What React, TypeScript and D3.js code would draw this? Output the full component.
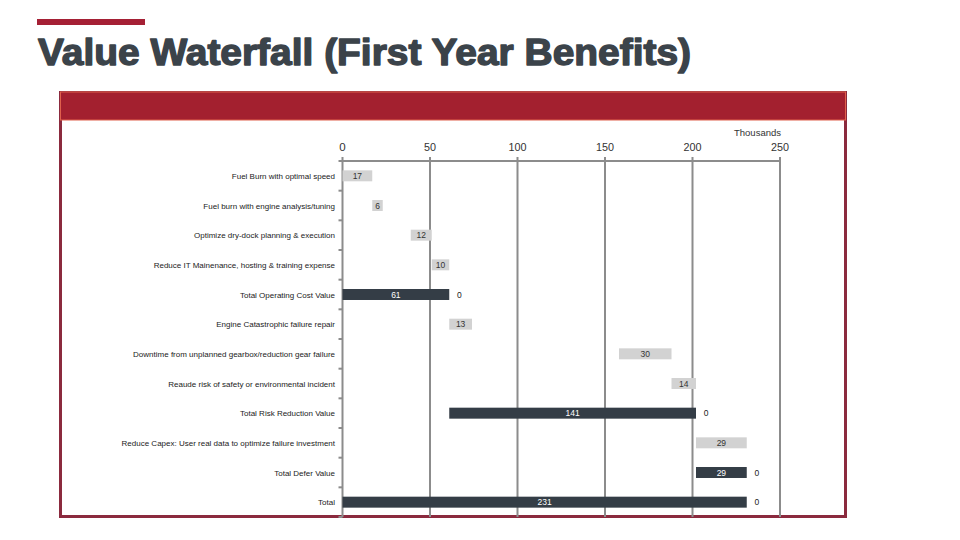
import React from "react";
import * as d3 from "d3";

const categories = [
  "Fuel Burn with optimal speed",
  "Fuel burn with engine analysis/tuning",
  "Optimize dry-dock planning & execution",
  "Reduce IT Mainenance, hosting & training expense",
  "Total Operating Cost Value",
  "Engine Catastrophic failure repair",
  "Downtime from unplanned gearbox/reduction gear failure",
  "Reaude risk of safety or environmental incident",
  "Total Risk Reduction Value",
  "Reduce Capex: User real data to optimize failure investment",
  "Total Defer Value",
  "Total",
];
const baseValues = [0, 17, 39, 51, 0, 61, 158, 188, 61, 202, 202, 0];
const stepValues = [17, 6, 12, 10, 61, 13, 30, 14, 141, 29, 29, 231];
const isTotal = [false, false, false, false, true, false, false, false, true, false, true, true];
const trailingLabels = ["", "", "", "", "0", "", "", "", "0", "", "0", "0"];
const xTicks = [0, 50, 100, 150, 200, 250];

export default function App() {
  const W = 960;
  const H = 540;
  const x = d3.scaleLinear().domain([0, 250]).range([342.5, 780]);
  const y = d3.scaleBand<string>().domain(categories).range([161, 517]).paddingInner(0.63).paddingOuter(0.315);
  const yStep = y.step();
  const gridTop = 161;
  const gridBottom = 517;
  const font = "'Liberation Sans', Arial, sans-serif";

  return (
    <svg width={W} height={H} style={{ position: "absolute", left: 0, top: 0, background: "#fff" }}>
      <rect x={0} y={0} width={W} height={H} fill="#fff" />
      {/* accent bar */}
      <rect x={37} y={19} width={108} height={6} fill="#a52035" />
      {/* title */}
      <text x={38} y={65} fontFamily={font} fontWeight="bold" fontSize={37} fill="#3b434a"
        stroke="#3b434a" strokeWidth={1.4} strokeLinejoin="round"
        textLength={653} lengthAdjust="spacingAndGlyphs">Value Waterfall (First Year Benefits)</text>

      {/* panel */}
      <rect x={60.5} y={92.5} width={785} height={424} fill="#fff" stroke="#8b2a3e" strokeWidth={3} />
      <rect x={60.5} y={92} width={785} height={28} fill="#a3202f" stroke="#e0604c" strokeWidth={1} />

      {/* gridlines */}
      {xTicks.map((t) => (
        <line key={"g" + t} x1={x(t)} x2={x(t)} y1={gridTop - 4} y2={gridBottom} stroke="#8c8c8c" strokeWidth={2} />
      ))}
      {/* top axis line */}
      <line x1={x(0)} x2={x(250)} y1={gridTop} y2={gridTop} stroke="#8c8c8c" strokeWidth={2} />
      {/* tick labels */}
      {xTicks.map((t) => (
        <text key={"t" + t} x={x(t)} y={151} textAnchor="middle" fontFamily={font} fontSize={11.5}
          fill="#333" textLength={t === 0 ? undefined : String(t).length * 6} lengthAdjust="spacingAndGlyphs">{t}</text>
      ))}
      <text x={781} y={136} textAnchor="end" fontFamily={font} fontSize={9.5} fill="#333">Thousands</text>

      {/* y axis ticks */}
      {d3.range(categories.length + 1).map((i) => (
        <line key={"yt" + i} x1={x(0) - 4} x2={x(0)} y1={gridTop + i * yStep} y2={gridTop + i * yStep}
          stroke="#8c8c8c" strokeWidth={2} />
      ))}

      {/* bars */}
      {categories.map((c, i) => {
        const x0 = x(baseValues[i]);
        const x1 = x(baseValues[i] + stepValues[i]);
        const by = y(c)!;
        const bh = y.bandwidth();
        const cy = by + bh / 2;
        return (
          <g key={c}>
            <rect x={x0} y={by} width={x1 - x0} height={bh} fill={isTotal[i] ? "#343d46" : "#d2d2d2"} />
            <text x={(x0 + x1) / 2} y={cy + 3} textAnchor="middle" fontFamily={font} fontSize={8.5}
              fill={isTotal[i] ? "#fff" : "#333"}>{stepValues[i]}</text>
            {trailingLabels[i] && (
              <text x={x1 + 10} y={cy + 3} textAnchor="middle" fontFamily={font} fontSize={8.5} fill="#222">
                {trailingLabels[i]}
              </text>
            )}
            <text x={335} y={cy + 3} textAnchor="end" fontFamily={font} fontSize={8} fill="#222">{c}</text>
          </g>
        );
      })}
    </svg>
  );
}
